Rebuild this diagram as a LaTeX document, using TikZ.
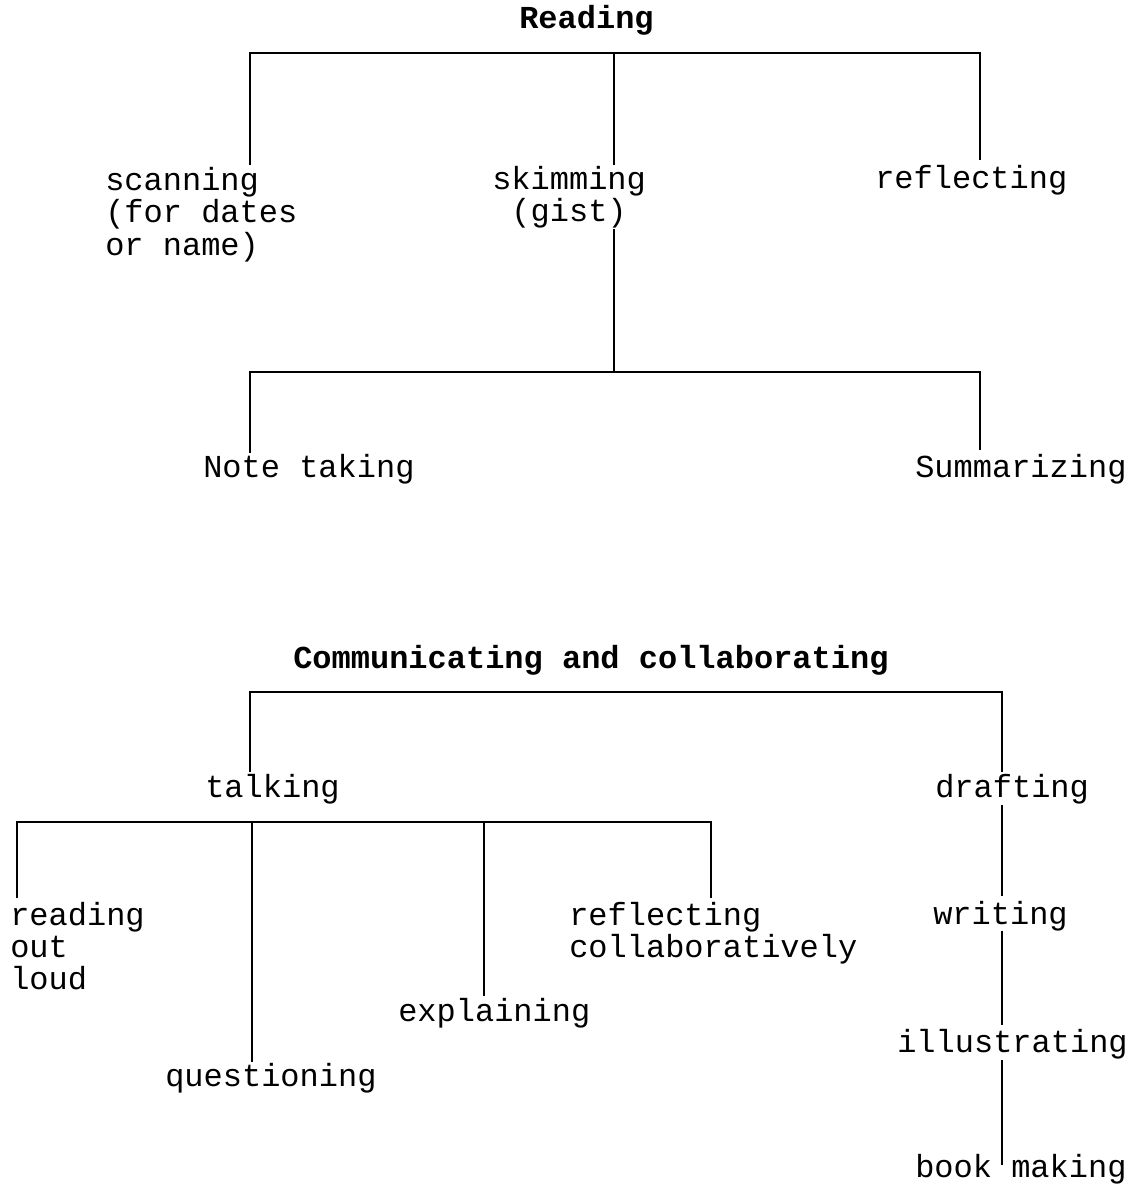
\documentclass[tikz,border=0pt]{standalone}
\usepackage{fontspec}
\setmainfont{Liberation Mono}
\newcommand{\mlines}[2]{\begin{tabular}[t]{@{}#1@{}}#2\end{tabular}}
\begin{document}
\begin{tikzpicture}[x=0.75pt,y=-0.75pt,
  lbl/.style={anchor=base west,inner sep=0pt,font=\fontsize{24}{24}\selectfont},
  ttl/.style={lbl,font=\fontsize{24}{24}\selectfont\bfseries},
  conn/.style={line width=2.1pt}]
\useasboundingbox (0,0) rectangle (1138,1185);
% ---------- Reading ----------
\node[ttl] (read) at (519,28) {Reading};
\node[lbl] (scan) at (105,190) {\mlines{l}{scanning\\(for dates\\or name)}};
\node[lbl] (skim) at (492,189) {\mlines{c}{skimming\\(gist)}};
\node[lbl] (refl) at (875,188) {reflecting};
\node[lbl] (note) at (203,477) {Note taking};
\node[lbl] (summ) at (915,477) {Summarizing};
\coordinate (rL) at (250,53);
\coordinate (rM) at (614,53);
\coordinate (rR) at (980,53);
\coordinate (sL) at (250,372);
\coordinate (sM) at (614,372);
\coordinate (sR) at (980,372);
\draw[conn,shorten <=18.75pt,shorten >=21pt] (rL |- scan.base) -- (rL) -- (rR) -- (rR |- refl.base);
\draw[conn,shorten >=18pt] (rM) -- (rM |- skim.base);
\draw[conn] ([yshift=2pt]sM |- skim.south) -- (sM);
\draw[conn,shorten <=18pt,shorten >=20pt] (sL |- note.base) -- (sL) -- (sR) -- (sR |- summ.base);
% ---------- Communicating ----------
\node[ttl] (comm) at (293,668) {Communicating and collaborating};
\node[lbl] (talk) at (205,797) {talking};
\node[lbl] (draft) at (935,797) {drafting};
\node[lbl] (rol) at (10,925) {\mlines{l}{reading\\out\\loud}};
\node[lbl] (rc) at (569,925) {\mlines{l}{reflecting\\collaboratively}};
\node[lbl] (expl) at (398,1021) {explaining};
\node[lbl] (quest) at (165,1086) {questioning};
\node[lbl] (write) at (933,924) {writing};
\node[lbl] (illu) at (897,1052) {illustrating};
\node[lbl] (book) at (915,1177) {book making};
\coordinate (cL) at (250,692);
\coordinate (cR) at (1002,692);
\coordinate (tA) at (17,822);
\coordinate (tB) at (252,822);
\coordinate (tC) at (484,822);
\coordinate (tD) at (711,822);
\draw[conn,shorten <=18.75pt,shorten >=18.75pt] (cL |- talk.base) -- (cL) -- (cR) -- (cR |- draft.base);
\draw[conn,shorten <=20pt,shorten >=20pt] (tA |- rol.base) -- (tA) -- (tD) -- (tD |- rc.base);
\draw[conn,shorten >=18pt] (tB) -- (tB |- quest.base);
\draw[conn,shorten >=19pt] (tC) -- (tC |- expl.base);
\draw[conn] ([yshift=-6pt]cR |- draft.base) -- ([yshift=21pt]cR |- write.base);
\draw[conn] ([yshift=-5pt]cR |- write.base) -- ([yshift=20pt]cR |- illu.base);
\draw[conn] ([yshift=-6pt]cR |- illu.base) -- ([yshift=9pt]cR |- book.base);
\end{tikzpicture}
\end{document}
